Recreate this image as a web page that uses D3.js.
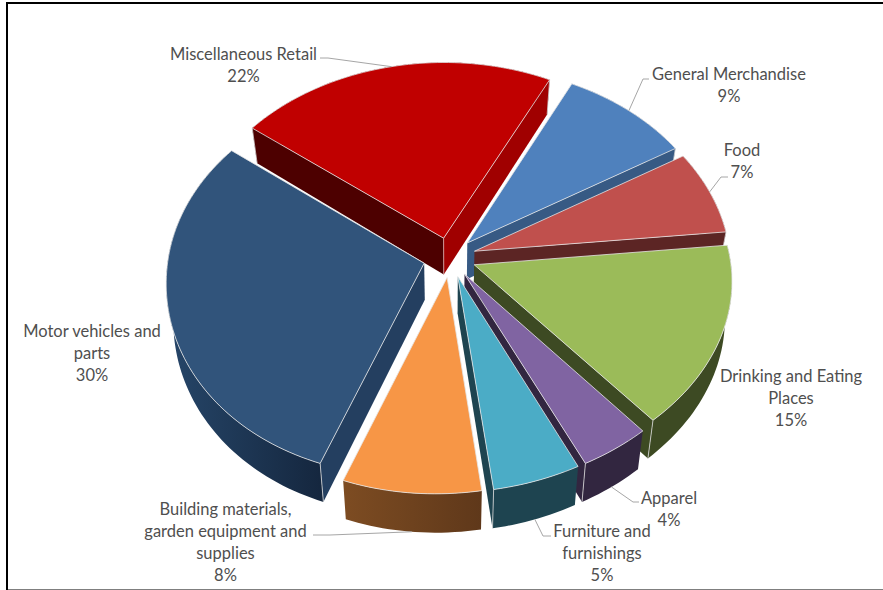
<!DOCTYPE html>
<html>
<head>
<meta charset="utf-8">
<script src="https://cdn.jsdelivr.net/npm/d3@7"></script>
<style>
  html, body { margin: 0; padding: 0; background: #fff; }
  svg { display: block; }
  text { font-family: Lato, "Open Sans", sans-serif; font-size: 16.5px; fill: #4f4f4f; text-anchor: middle; }
</style>
</head>
<body>
<svg id="chart" width="883" height="590"></svg>
<script>
// Retail sales by store type
const categories = ["General Merchandise", "Food", "Drinking and Eating Places", "Apparel",
  "Furniture and furnishings", "Building materials, garden equipment and supplies",
  "Motor vehicles and parts", "Miscellaneous Retail"];
const shares = [9, 7, 15, 4, 5, 8, 30, 22];

// Label layout: wrapped lines, centre x, first-line centre y, optional leader knee
const labelLines = [
  ["General Merchandise"], ["Food"], ["Drinking and Eating", "Places"], ["Apparel"],
  ["Furniture and", "furnishings"], ["Building materials,", "garden equipment and", "supplies"],
  ["Motor vehicles and", "parts"], ["Miscellaneous Retail"]
];
const labelX = [729, 742, 791, 669, 602, 225.5, 92, 243.5];
const labelY = [74, 150, 376, 498, 531, 509, 331, 54];
const leaderKnees = [
  [[649, 79], [643, 79]], [[728, 177], [721, 177]], null, [[639, 502], [633, 502]],
  [[551, 536], [543, 536]], [[313, 535], [330, 535]], null, [[320, 58], [328, 58]]
];
const leaderOnBase = [false, false, false, true, true, true, false, false];

const topColors = ["#4f81bd", "#c0504d", "#9bbb59", "#8064a2", "#4bacc6", "#f79646", "#31547b", "#c00000"];
const wallStart = ["#375a84", "#5c2524", "#3d4a23", "#322640", "#1e4450", "#7d4c22", "#264669", "#4d0000"];
const wallEnd   = ["#375a84", "#5c2524", "#3d4a23", "#322640", "#1e4450", "#5f381a", "#15273f", "#4d0000"];
const cutStart  = ["#375a84", "#5c2524", "#3d4a23", "#322640", "#1e4450", "#5f381a", "#243f60", "#4d0000"];
const cutEnd    = ["#375a84", "#5c2524", "#3d4a23", "#322640", "#1e4450", "#5f381a", "#243f60", "#a00000"];
const apexEdge  = [false, false, false, false, false, false, false, true];

// Projection of the tilted disc
const cx = 449.5, cy = 257.5, radiusX = 256, radiusY = 194;
const perspective = 0.086, explode = 0.103, depth = 36.5, lean = 9.5;
const rotation = 26.6 * Math.PI / 180;

function project(mid, angle, r, lower) {
  const X = explode * Math.sin(mid) + r * Math.sin(angle);
  const Y = -(explode * Math.cos(mid) + r * Math.cos(angle));
  const w = 1 - perspective * Y;
  // The nearer half of the disc drifts slightly to the left
  const x = X * radiusX / w - (Y > 0 ? lean * Y * Y : 0), y = Y * radiusY / w;
  if (!lower) return [cx + x, cy + y];
  return [cx + x * 0.975, cy + y + depth + y * 0.01];
}

const arcs = d3.pie().sort(null).value(d => d)
  .startAngle(rotation).endAngle(rotation + 2 * Math.PI)(shares);
arcs.forEach(a => a.mid = (a.startAngle + a.endAngle) / 2);

const svg = d3.select("#chart");
const defs = svg.append("defs");
const line = d3.line();

svg.append("rect").attr("width", 883).attr("height", 590).attr("fill", "#fff");

function arcPoints(a, lower) {
  const n = Math.max(6, Math.ceil((a.endAngle - a.startAngle) * 40));
  return d3.range(n + 1).map(i =>
    project(a.mid, a.startAngle + (a.endAngle - a.startAngle) * i / n, 1, lower));
}

// Back slices first so nearer ones overlap them
const paintOrder = [7, 0, 1, 2, 6, 3, 4, 5];
paintOrder.forEach(i => {
  const a = arcs[i];
  const g = svg.append("g");
  const apexTop = project(a.mid, 0, 0, false), apexLow = project(a.mid, 0, 0, true);
  const upper = arcPoints(a, false), lower = arcPoints(a, true);
  const last = upper.length - 1;

  const gradId = "rim" + i;
  const grad = defs.append("linearGradient").attr("id", gradId)
    .attr("gradientUnits", "userSpaceOnUse")
    .attr("x1", d3.min(upper, p => p[0])).attr("x2", d3.max(upper, p => p[0]))
    .attr("y1", 0).attr("y2", 0);
  const leftIsEnd = upper[0][0] > upper[last][0];
  grad.append("stop").attr("offset", 0).attr("stop-color", leftIsEnd ? wallStart[i] : wallEnd[i]);
  grad.append("stop").attr("offset", 1).attr("stop-color", leftIsEnd ? wallEnd[i] : wallStart[i]);

  // Outer rim
  g.append("path").attr("fill", `url(#${gradId})`)
    .attr("d", line(upper.concat(lower.slice().reverse())) + "Z");

  // Cut faces from rim to apex, drawn only when they face the viewer
  const startVisible = upper[0][0] < apexTop[0];
  const endVisible = upper[last][0] > apexTop[0];
  if (startVisible) {
    g.append("path").attr("fill", cutStart[i])
      .attr("d", line([apexTop, upper[0], lower[0], apexLow]) + "Z");
    g.append("path").attr("fill", "none").attr("stroke", "#d9d9d9").attr("stroke-width", 0.8)
      .attr("d", line([upper[0], lower[0]]));
  }
  if (endVisible) {
    g.append("path").attr("fill", cutEnd[i])
      .attr("d", line([apexTop, upper[last], lower[last], apexLow]) + "Z");
    g.append("path").attr("fill", "none").attr("stroke", "#d9d9d9").attr("stroke-width", 0.8)
      .attr("d", line([upper[last], lower[last]]));
  }
  if (apexEdge[i]) {
    g.append("path").attr("fill", "none").attr("stroke", "#d9b0b0").attr("stroke-width", 0.8)
      .attr("d", line([apexTop, apexLow]));
  }
  // Top face
  g.append("path").attr("fill", topColors[i]).attr("stroke", "#e6e6e6").attr("stroke-width", 0.8)
    .attr("stroke-linejoin", "round")
    .attr("d", line([apexTop].concat(upper)) + "Z");
});

// Leader lines run from the label to the middle of each slice's rim
arcs.forEach((a, i) => {
  if (!leaderKnees[i]) return;
  const end = project(a.mid, a.mid, 1, leaderOnBase[i]);
  svg.append("path").attr("fill", "none").attr("stroke", "#a6a6a6").attr("stroke-width", 1)
    .attr("d", line(leaderKnees[i].concat([end])));
});

// Data labels
categories.forEach((c, i) => {
  const rows = labelLines[i].concat([shares[i] + "%"]);
  const t = svg.append("text");
  rows.forEach((r, k) => {
    t.append("tspan").attr("x", labelX[i]).attr("y", labelY[i] + k * 22).attr("dy", "0.35em").text(r);
  });
});

// Outer frame: heavy at top and left, hairline along the bottom
svg.append("path").attr("fill", "none").attr("stroke", "#000").attr("stroke-width", 2)
  .attr("d", "M7,590V3H883");
svg.append("path").attr("fill", "none").attr("stroke", "#7f7f7f").attr("stroke-width", 1)
  .attr("d", "M8,589.5H883");
</script>
</body>
</html>
